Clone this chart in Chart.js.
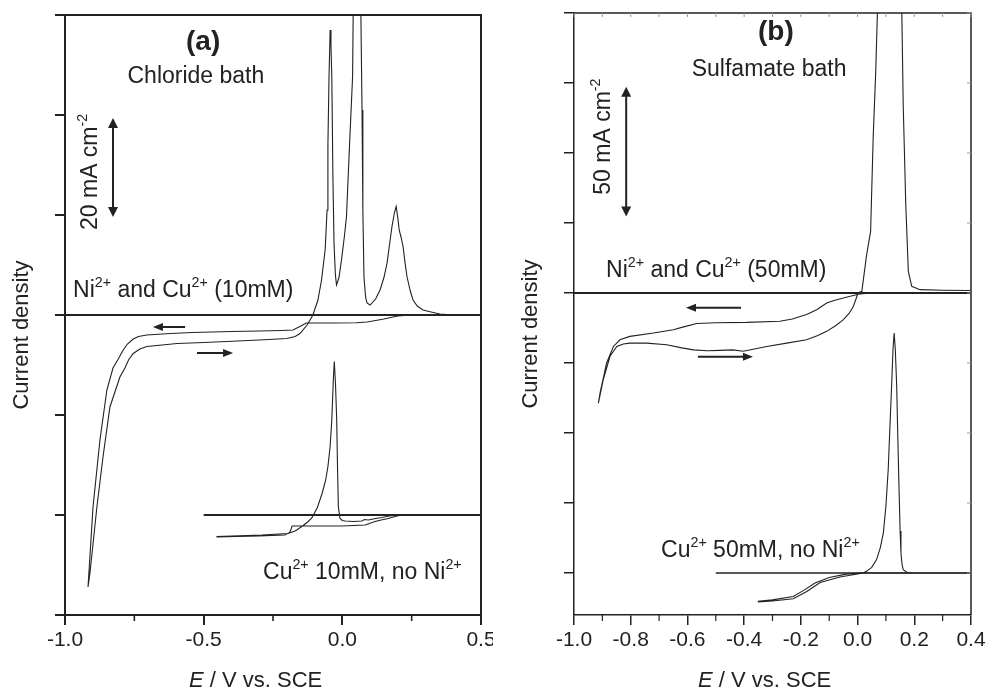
<!DOCTYPE html>
<html>
<head>
<meta charset="utf-8">
<script src="https://cdn.jsdelivr.net/npm/chart.js@4.4.1/dist/chart.umd.min.js"></script>
<style>
  body { margin: 0; background: #fff; }
  .panel { position: absolute; top: 0; width: 493px; height: 691px; }
</style>
</head>
<body>
<div class="panel" style="left:0"><canvas id="chartA" width="493" height="691"></canvas></div>
<div class="panel" style="left:493px"><canvas id="chartB" width="493" height="691"></canvas></div>
<script>
const FONT = "'Liberation Sans', Arial, Helvetica, sans-serif";
const INK = '#222';

// ---------- panel (a): chloride bath ----------
const xTicksA = [-1.0, -0.5, 0.0, 0.5];
const xMinorA = [-0.75, -0.25, 0.25];
const yTicksA = [-60, -40, -20, 0, 20, 40, 60];

// Ni2+ and Cu2+ (10mM), cathodic sweep (right to left)
const chlorideMixCathE = [0.40, 0.25, 0.20, 0.183, 0.15, 0.12, 0.089, 0.05, -0.033, -0.13, -0.153, -0.178, -0.22, -0.30, -0.40, -0.54, -0.62, -0.705, -0.735, -0.754, -0.775, -0.79, -0.81, -0.827, -0.849, -0.874, -0.899, -0.917];
const chlorideMixCathJ = [0, 0, -0.2, -0.4, -0.8, -1.1, -1.4, -1.55, -1.6, -1.6, -2.3, -3.0, -3.1, -3.2, -3.3, -3.5, -3.7, -4.0, -4.3, -4.8, -5.8, -7.0, -9.0, -10.6, -15, -25, -38.4, -54.4];
// anodic sweep (left to right)
const chlorideMixAnodE = [-0.917, -0.910, -0.885, -0.863, -0.838, -0.802, -0.784, -0.770, -0.754, -0.730, -0.705, -0.650, -0.596, -0.500, -0.416, -0.300, -0.200, -0.170, -0.153, -0.127, -0.106, -0.088, -0.075, -0.062, -0.055, -0.052, -0.048, -0.044, -0.041, -0.038, -0.034, -0.030, -0.025, -0.021, -0.012, -0.003, 0.008, 0.015, 0.026, 0.037, 0.039, 0.045, 0.055, 0.064, 0.067, 0.071, 0.074, 0.078, 0.084, 0.089, 0.100, 0.120, 0.136, 0.150, 0.161, 0.179, 0.188, 0.194, 0.200, 0.205, 0.212, 0.219, 0.226, 0.233, 0.245, 0.255, 0.270, 0.291, 0.320, 0.352, 0.400];
const chlorideMixAnodJ = [-54.4, -51.6, -38.4, -28.4, -18.4, -12.4, -10.6, -8.9, -7.7, -6.8, -6.3, -6.0, -5.7, -5.5, -5.3, -5.0, -4.7, -4.3, -3.7, -2.0, 0, 3, 7, 13, 21, 34, 47.7, 57, 54, 47.7, 27.7, 14.3, 8, 6, 7.5, 11, 16, 19.7, 34, 47.7, 59.6, 75, 82, 75, 59.6, 41, 21, 7.6, 3.5, 2.4, 2.0, 3.2, 5, 7.5, 10.3, 17.7, 20.5, 21.7, 19.5, 17, 15.5, 13.7, 10.5, 7.7, 4.8, 3, 1.8, 1, 0.6, 0.2, 0];

// Cu2+ 10mM, no Ni2+ (shifted down by 40)
const chlorideCuCathE = [0.30, 0.215, 0.190, 0.166, 0.140, 0.118, 0.082, 0.0, -0.181, -0.186, -0.190, -0.207, -0.30, -0.452];
const chlorideCuCathJ = [-40, -40, -40.3, -40.7, -41.0, -41.3, -42.0, -42.2, -42.2, -43.0, -43.5, -44.0, -44.2, -44.4];
const chlorideCuAnodE = [-0.452, -0.29, -0.196, -0.170, -0.146, -0.125, -0.110, -0.090, -0.073, -0.060, -0.052, -0.044, -0.038, -0.0325, -0.029, -0.0245, -0.0203, -0.0175, -0.0144, -0.0084, 0.0, 0.0097, 0.040, 0.070, 0.080, 0.094, 0.120, 0.143, 0.170, 0.200, 0.30];
const chlorideCuAnodJ = [-44.3, -44.0, -43.7, -43.2, -42.3, -41.4, -40.6, -38.5, -35.7, -33, -30.3, -26.3, -21, -13, -9.3, -14, -21, -30, -38.3, -40.7, -41.1, -41.2, -41.3, -41.2, -40.9, -41.0, -40.7, -40.5, -40.2, -40, -40];

const baseLevelA = [0, -40];
const baseFromA = [-1.0, -0.5];
const baseToA = [0.5, 0.5];

// ---------- panel (b): sulfamate bath ----------
const xTicksB = [-1.0, -0.8, -0.6, -0.4, -0.2, 0.0, 0.2, 0.4];
const xMinorB = [-0.9, -0.7, -0.5, -0.3, -0.1, 0.1, 0.3];
const yTicksB = [-100, -75, -50, -25, 0, 25, 50, 75, 100];

// Ni2+ and Cu2+ (50mM)
const sulfamateMixCathE = [0.40, 0.20, 0.05, 0.009, -0.050, -0.080, -0.109, -0.144, -0.180, -0.230, -0.274, -0.391, -0.500, -0.567, -0.610, -0.650, -0.720, -0.803, -0.838, -0.861, -0.885, -0.908, -0.914];
const sulfamateMixCathJ = [0, 0, 0, -0.3, -1.8, -2.6, -3.6, -6.0, -7.7, -9.3, -10.1, -10.5, -10.6, -10.9, -12.0, -13.1, -14.3, -15.5, -16.7, -19.1, -25, -35.7, -39.3];
const sulfamateMixAnodE = [-0.914, -0.897, -0.873, -0.849, -0.826, -0.803, -0.744, -0.673, -0.620, -0.579, -0.530, -0.485, -0.440, -0.403, -0.320, -0.250, -0.180, -0.140, -0.109, -0.075, -0.050, -0.030, -0.015, 0.002, 0.015, 0.032, 0.046, 0.055, 0.064, 0.070, 0.085, 0.140, 0.156, 0.161, 0.170, 0.179, 0.191, 0.220, 0.300, 0.397];
const sulfamateMixAnodJ = [-39.3, -31, -22.6, -19.1, -18.2, -17.9, -17.9, -18.5, -19.6, -20.3, -20.6, -20.5, -20.3, -20.8, -19.1, -17.9, -16.7, -15.2, -13.7, -11.5, -9.5, -7.3, -4.8, 0, 0.6, 13.7, 22, 55.4, 79, 100.4, 140, 140, 100.4, 67, 31.5, 7.7, 2.4, 1.2, 1.0, 0.9];

// Cu2+ 50mM, no Ni2+ (shifted down by 100)
const sulfamateCuCathE = [0.40, 0.10, 0.02, -0.062, -0.132, -0.179, -0.227, -0.30, -0.350];
const sulfamateCuCathJ = [-100, -100, -100, -101.4, -103.4, -106.6, -109.2, -110, -110.3];
const sulfamateCuAnodE = [-0.350, -0.30, -0.227, -0.190, -0.150, -0.100, -0.040, 0.020, 0.032, 0.050, 0.067, 0.080, 0.091, 0.100, 0.108, 0.114, 0.120, 0.125, 0.129, 0.133, 0.138, 0.142, 0.146, 0.150, 0.153, 0.157, 0.161, 0.175, 0.197, 0.40];
const sulfamateCuAnodJ = [-110.1, -109.6, -108.4, -106.2, -103.6, -101.6, -100.4, -99.9, -99.4, -98, -95.2, -91, -85.7, -76, -63.1, -48, -33.3, -20, -14.3, -20, -33.3, -52, -69, -85, -92.9, -97, -98.8, -99.8, -100, -100];

const baseLevelB = [0, -100];
const baseFromB = [-1.0, -0.5];
const baseToB = [0.4, 0.4];

function toPoints(es, js) {
    return es.map((e, i) => ({ x: e, y: js[i] }));
}

function curve(es1, js1, es2, js2, width) {
    return {
        data: toPoints(es1, js1).concat(toPoints(es2, js2)),
        showLine: true, pointRadius: 0, borderColor: INK, borderWidth: width,
        tension: 0, fill: false, clip: 0
    };
}

function baselines(levels, from, to, widths) {
    return levels.map((lv, i) => ({
        data: [{ x: from[i], y: lv }, { x: to[i], y: lv }],
        showLine: true, pointRadius: 0, borderColor: INK, borderWidth: widths[i], clip: 0
    }));
}

function richText(ctx, parts, x, y, size) {
    let cx = x;
    for (const p of parts) {
        const s = p.sup ? size * 0.62 : size;
        ctx.font = `${p.italic ? 'italic ' : ''}${p.bold ? 'bold ' : ''}${s}px ${FONT}`;
        ctx.fillText(p.t, cx, p.sup ? y - size * 0.42 : y);
        cx += ctx.measureText(p.t).width;
    }
}

function arrow(ctx, x1, y1, x2, y2, both, lw, len, half) {
    const dx = x2 - x1, dy = y2 - y1, d = Math.hypot(dx, dy);
    const ux = dx / d, uy = dy / d;
    const sx = both ? x1 + ux * len * 0.8 : x1, sy = both ? y1 + uy * len * 0.8 : y1;
    ctx.lineWidth = lw;
    ctx.beginPath();
    ctx.moveTo(sx, sy);
    ctx.lineTo(x2 - ux * len * 0.8, y2 - uy * len * 0.8);
    ctx.stroke();
    const head = (tx, ty, vx, vy) => {
        ctx.beginPath();
        ctx.moveTo(tx, ty);
        ctx.lineTo(tx - vx * len - vy * half, ty - vy * len + vx * half);
        ctx.lineTo(tx - vx * len + vy * half, ty - vy * len - vx * half);
        ctx.closePath();
        ctx.fill();
    };
    head(x2, y2, ux, uy);
    if (both) head(x1, y1, -ux, -uy);
}

function decor(opts) {
    return {
        id: 'decor',
        afterDraw(chart) {
            const { ctx, chartArea: a, scales: { x, y } } = chart;
            ctx.save();
            ctx.strokeStyle = INK;
            ctx.fillStyle = INK;

            // frame top and right
            ctx.lineWidth = opts.frame;
            ctx.beginPath();
            ctx.moveTo(a.left, a.top);
            ctx.lineTo(a.right, a.top);
            ctx.lineTo(a.right, a.bottom);
            ctx.stroke();

            // minor ticks on the bottom axis
            ctx.lineWidth = opts.frame * 0.8;
            for (const v of opts.minor) {
                const px = x.getPixelForValue(v);
                ctx.beginPath();
                ctx.moveTo(px, a.bottom);
                ctx.lineTo(px, a.bottom + 6);
                ctx.stroke();
            }
            // faint inward ticks on top and right
            if (opts.innerTicks) {
                ctx.strokeStyle = '#999';
                ctx.lineWidth = 1;
                for (const v of opts.xAll) {
                    const px = x.getPixelForValue(v);
                    ctx.beginPath(); ctx.moveTo(px, a.top); ctx.lineTo(px, a.top + 4); ctx.stroke();
                }
                for (const v of opts.yAll) {
                    const py = y.getPixelForValue(v);
                    ctx.beginPath(); ctx.moveTo(a.right, py); ctx.lineTo(a.right - 4, py); ctx.stroke();
                }
                ctx.strokeStyle = INK;
            }

            // panel letter and bath name
            ctx.textAlign = 'center';
            ctx.textBaseline = 'middle';
            ctx.font = `bold 28px ${FONT}`;
            ctx.fillText(opts.letter, x.getPixelForValue(opts.letterAt[0]), y.getPixelForValue(opts.letterAt[1]));
            ctx.textBaseline = 'alphabetic';
            ctx.font = `23px ${FONT}`;
            ctx.fillText(opts.bath, x.getPixelForValue(opts.bathAt[0]), y.getPixelForValue(opts.bathAt[1]));
            ctx.textAlign = 'left';

            // scale bar
            const bx = x.getPixelForValue(opts.bar.x);
            arrow(ctx, bx, y.getPixelForValue(opts.bar.y2), bx, y.getPixelForValue(opts.bar.y1), true, 2, 10, 5);
            ctx.save();
            ctx.translate(x.getPixelForValue(opts.barText[0]), y.getPixelForValue(opts.barText[1]));
            ctx.rotate(-Math.PI / 2);
            richText(ctx, [{ t: opts.barLabel }, { t: '-2', sup: true }], 0, 0, 23);
            ctx.restore();

            // curve labels
            richText(ctx, [{ t: 'Ni' }, { t: '2+', sup: true }, { t: ' and Cu' }, { t: '2+', sup: true }, { t: opts.mixLabel }],
                x.getPixelForValue(opts.mixAt[0]), y.getPixelForValue(opts.mixAt[1]), 23);
            richText(ctx, [{ t: 'Cu' }, { t: '2+', sup: true }, { t: opts.cuLabel }, { t: '2+', sup: true }],
                x.getPixelForValue(opts.cuAt[0]), y.getPixelForValue(opts.cuAt[1]), 23);

            // sweep direction arrows
            arrow(ctx, x.getPixelForValue(opts.leftArrow[1]), y.getPixelForValue(opts.leftArrow[2]),
                x.getPixelForValue(opts.leftArrow[0]), y.getPixelForValue(opts.leftArrow[2]), false, 2, 10, 4);
            arrow(ctx, x.getPixelForValue(opts.rightArrow[0]), y.getPixelForValue(opts.rightArrow[2]),
                x.getPixelForValue(opts.rightArrow[1]), y.getPixelForValue(opts.rightArrow[2]), false, 2, 10, 4);

            // axis titles
            ctx.save();
            ctx.translate(a.left - 43, (a.top + a.bottom) / 2 + 20);
            ctx.rotate(-Math.PI / 2);
            ctx.textAlign = 'center';
            ctx.textBaseline = 'middle';
            ctx.font = `22px ${FONT}`;
            ctx.fillText('Current density', 0, 0);
            ctx.restore();
            richText(ctx, [{ t: 'E', italic: true }, { t: ' / V vs. SCE' }], a.left + 124, 687, 22);

            ctx.restore();
        }
    };
}

function axes(xMin, xMax, xTicks, yMin, yMax, yTicks, yWidth, lw) {
    return {
        x: {
            type: 'linear', min: xMin, max: xMax,
            afterBuildTicks: s => { s.ticks = xTicks.map(v => ({ value: v })); },
            afterFit: s => { s.height = 76; s.paddingLeft = 0; s.paddingRight = 0; },
            ticks: {
                autoSkip: false, maxRotation: 0, padding: 3, color: INK,
                font: { family: FONT, size: 21 },
                callback: v => Number(v).toFixed(1)
            },
            grid: { drawOnChartArea: false, drawTicks: true, tickLength: 10, color: INK, lineWidth: lw },
            border: { display: true, color: INK, width: lw }
        },
        y: {
            type: 'linear', min: yMin, max: yMax,
            afterBuildTicks: s => { s.ticks = yTicks.map(v => ({ value: v })); },
            afterFit: s => { s.width = yWidth; s.paddingTop = 0; s.paddingBottom = 0; },
            ticks: { display: false },
            grid: { drawOnChartArea: false, drawTicks: true, tickLength: 10, color: INK, lineWidth: lw },
            border: { display: true, color: INK, width: lw }
        }
    };
}

const common = {
    responsive: false,
    animation: false,
    events: [],
    plugins: { legend: { display: false }, tooltip: { enabled: false } }
};

new Chart(document.getElementById('chartA'), {
    type: 'scatter',
    data: {
        datasets: [
            ...baselines(baseLevelA, baseFromA, baseToA, [2, 2]),
            curve(chlorideMixCathE, chlorideMixCathJ, chlorideMixAnodE, chlorideMixAnodJ, 1.1),
            curve(chlorideCuCathE, chlorideCuCathJ, chlorideCuAnodE, chlorideCuAnodJ, 1.1)
        ]
    },
    options: {
        ...common,
        layout: { padding: { left: 0, right: 12, top: 15, bottom: 0 } },
        scales: axes(-1.0, 0.5, xTicksA, -60, 60, yTicksA, 65, 2)
    },
    plugins: [decor({
        frame: 2, minor: xMinorA, innerTicks: false,
        letter: '(a)', letterAt: [-0.502, 54.6],
        bath: 'Chloride bath', bathAt: [-0.528, 46.4],
        bar: { x: -0.827, y1: 19.6, y2: 39.4 }, barText: [-0.885, 17], barLabel: '20 mA cm',
        mixLabel: ' (10mM)', mixAt: [-0.971, 3.6],
        cuLabel: ' 10mM, no Ni', cuAt: [-0.286, -52.8],
        leftArrow: [-0.683, -0.567, -2.4], rightArrow: [-0.524, -0.394, -7.6]
    })]
});

new Chart(document.getElementById('chartB'), {
    type: 'scatter',
    data: {
        datasets: [
            ...baselines(baseLevelB, baseFromB, baseToB, [2, 1.5]),
            curve(sulfamateMixCathE, sulfamateMixCathJ, sulfamateMixAnodE, sulfamateMixAnodJ, 1.1),
            curve(sulfamateCuCathE, sulfamateCuCathJ, sulfamateCuAnodE, sulfamateCuAnodJ, 1.1)
        ]
    },
    options: {
        ...common,
        layout: { padding: { left: 0, right: 15, top: 13, bottom: 0 } },
        scales: axes(-1.0, 0.4, xTicksB, -115, 100, yTicksB, 81, 1.5)
    },
    plugins: [decor({
        frame: 1.5, minor: xMinorB, innerTicks: true,
        xAll: xTicksB.concat(xMinorB), yAll: yTicksB,
        letter: '(b)', letterAt: [-0.288, 93],
        bath: 'Sulfamate bath', bathAt: [-0.312, 77.6],
        bar: { x: -0.816, y1: 27.3, y2: 73.7 }, barText: [-0.873, 35.1], barLabel: '50 mA cm',
        mixLabel: ' (50mM)', mixAt: [-0.887, 5.8],
        cuLabel: ' 50mM, no Ni', cuAt: [-0.693, -94.2],
        leftArrow: [-0.605, -0.411, -5.3], rightArrow: [-0.563, -0.369, -22.8]
    })]
});
</script>
</body>
</html>
